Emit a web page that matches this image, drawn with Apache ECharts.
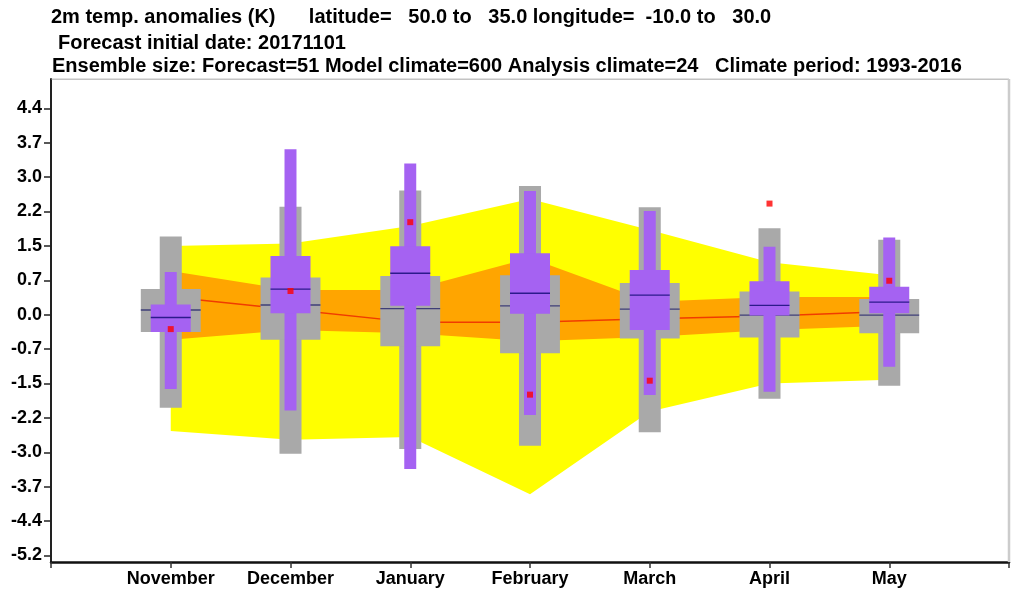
<!DOCTYPE html>
<html>
<head>
<meta charset="utf-8">
<style>
  html, body { margin: 0; padding: 0; background: #fff; }
  #chart { width: 1022px; height: 596px; }
</style>
<script src="https://cdn.jsdelivr.net/npm/echarts@6/dist/echarts.min.js"></script>
</head>
<body>
<div id="chart"></div>
<script>
// blank first and last slots keep the months away from the plot edges
const months = ["", "November", "December", "January", "February", "March", "April", "May", ""];
const tickValues = [-5.18, -4.44, -3.7, -2.96, -2.22, -1.48, -0.74, 0, 0.74, 1.48, 2.22, 2.96, 3.7, 4.44];

// climate bands, November to May
const yellowHigh = [1.48, 1.53, 1.91, 2.49, 1.82, 1.13, 0.85];
const yellowLow = [-2.5, -2.69, -2.63, -3.86, -2.08, -1.48, -1.4];
const orangeHigh = [0.94, 0.53, 0.53, 1.22, 0.28, 0.38, 0.38];
const orangeLow = [-0.54, -0.33, -0.4, -0.57, -0.48, -0.33, -0.24];
const meanLine = [0.38, 0.11, -0.16, -0.16, -0.09, -0.03, 0.07];

// model climate boxes
const grayTop = [1.68, 2.32, 2.67, 2.77, 2.31, 1.86, 1.61];
const grayUpper = [0.55, 0.8, 0.83, 0.85, 0.68, 0.5, 0.34];
const grayMedian = [0.1, 0.21, 0.13, 0.19, 0.12, -0.01, -0.01];
const grayLower = [-0.37, -0.54, -0.68, -0.83, -0.51, -0.49, -0.4];
const grayBottom = [-2.0, -2.99, -2.89, -2.82, -2.53, -1.81, -1.53];

// forecast boxes
const purpleTop = [0.92, 3.56, 3.25, 2.66, 2.23, 1.46, 1.66];
const purpleUpper = [0.22, 1.26, 1.47, 1.32, 0.96, 0.72, 0.6];
const purpleMedian = [-0.06, 0.55, 0.89, 0.46, 0.42, 0.2, 0.27];
const purpleLower = [-0.37, 0.03, 0.19, 0.02, -0.33, -0.02, 0.03];
const purpleBottom = [-1.6, -2.06, -3.32, -2.16, -1.73, -1.66, -1.12];

const analysis = [-0.31, 0.51, 1.99, -1.72, -1.42, 2.39, 0.73];

const titleLines = [
  "2m temp. anomalies (K)      latitude=   50.0 to   35.0 longitude=  -10.0 to   30.0",
  "Forecast initial date: 20171101",
  "Ensemble size: Forecast=51 Model climate=600 Analysis climate=24   Climate period: 1993-2016",
];

const boldFont = '"Liberation Sans", Arial, sans-serif';
const chart = echarts.init(document.getElementById("chart"));

const bandSeries = (high, low, color, z) => ({
  type: "custom",
  z,
  silent: true,
  data: high.map((v, i) => [i + 1, v, low[i]]),
  renderItem: (params, api) => {
    if (params.dataIndex !== 0) return null;
    const top = high.map((v, i) => api.coord([i + 1, v]));
    const bottom = low.map((v, i) => api.coord([i + 1, v])).reverse();
    return { type: "polygon", shape: { points: top.concat(bottom) }, style: { fill: color } };
  },
});

const boxSeries = (top, upper, median, lower, bottom, opts) => ({
  type: "custom",
  z: opts.z,
  silent: true,
  data: top.map((v, i) => [i + 1, v, upper[i], median[i], lower[i], bottom[i]]),
  renderItem: (params, api) => {
    const band = api.size([1, 0])[0];
    const x = api.value(0);
    const rect = (y0, y1, frac, color) => {
      const a = api.coord([x, y0]);
      const b = api.coord([x, y1]);
      const w = band * frac;
      return { type: "rect", shape: { x: a[0] - w / 2, y: a[1], width: w, height: b[1] - a[1] }, style: { fill: color } };
    };
    return {
      type: "group",
      children: [
        rect(api.value(1), api.value(5), opts.narrow, opts.color),
        rect(api.value(2), api.value(4), opts.wide, opts.color),
        rect(api.value(3), api.value(3), opts.wide, opts.medianColor),
      ].map((r, i) => {
        if (i === 2) { r.shape.height = 1.4; r.shape.y -= 0.7; }
        return r;
      }),
    };
  },
});

chart.setOption({
  animation: false,
  backgroundColor: "#fff",
  title: [
    { text: titleLines[0], left: 51, top: 7 },
    { text: titleLines[1], left: 58, top: 33 },
    { text: titleLines[2], left: 52, top: 56 },
  ].map((t) => ({
    ...t,
    padding: 0,
    textStyle: { fontFamily: boldFont, fontSize: 20, fontWeight: "bold", color: "#000" },
  })),
  grid: { left: 51, right: 13, top: 79, bottom: 34, show: true, borderWidth: 0 },
  xAxis: {
    type: "category",
    boundaryGap: false,
    data: months,
    axisLine: { onZero: false, lineStyle: { color: "#111", width: 2.5 } },
    axisTick: { length: 6, lineStyle: { color: "#333", width: 1.5 } },
    axisLabel: { interval: 0, margin: 8, fontFamily: boldFont, fontSize: 18, fontWeight: "bold", color: "#000" },
    splitLine: { show: false },
  },
  yAxis: {
    type: "value",
    min: -5.32,
    max: 5.07,
    axisLine: { show: true, lineStyle: { color: "#222", width: 2 } },
    axisTick: { show: true, length: 7, customValues: tickValues, lineStyle: { color: "#222", width: 1.5 } },
    axisLabel: {
      customValues: tickValues,
      margin: 9,
      fontFamily: boldFont,
      fontSize: 18,
      fontWeight: "bold",
      color: "#000",
      formatter: (v) => v.toFixed(1),
    },
    splitLine: { show: false },
  },
  series: [
    bandSeries(yellowHigh, yellowLow, "#ffff00", 1),
    bandSeries(orangeHigh, orangeLow, "#ffa500", 2),
    {
      type: "line",
      z: 3,
      silent: true,
      symbol: "none",
      data: meanLine.map((v, i) => [i + 1, v]),
      lineStyle: { color: "#f03c00", width: 1.5 },
    },
    boxSeries(grayTop, grayUpper, grayMedian, grayLower, grayBottom, {
      z: 4, narrow: 0.184, wide: 0.5, color: "#a9a9a9", medianColor: "#3f3f78",
    }),
    boxSeries(purpleTop, purpleUpper, purpleMedian, purpleLower, purpleBottom, {
      z: 5, narrow: 0.1, wide: 0.334, color: "#a562f2", medianColor: "#2c1a8c",
    }),
    {
      type: "scatter",
      z: 6,
      silent: true,
      symbol: "rect",
      symbolSize: 6,
      data: analysis.map((v, i) => [i + 1, v]),
      itemStyle: { color: "#ff0000" },
    },
    // top and right frame of the plot
    {
      type: "line",
      z: 0,
      silent: true,
      symbol: "none",
      data: [[0, 5.07], [8, 5.07]],
      lineStyle: { color: "#888", width: 1 },
    },
    {
      type: "line",
      z: 0,
      silent: true,
      symbol: "none",
      data: [[8, 5.07], [8, -5.32]],
      lineStyle: { color: "#ccc", width: 2.5 },
    },
  ],
});
</script>
</body>
</html>
